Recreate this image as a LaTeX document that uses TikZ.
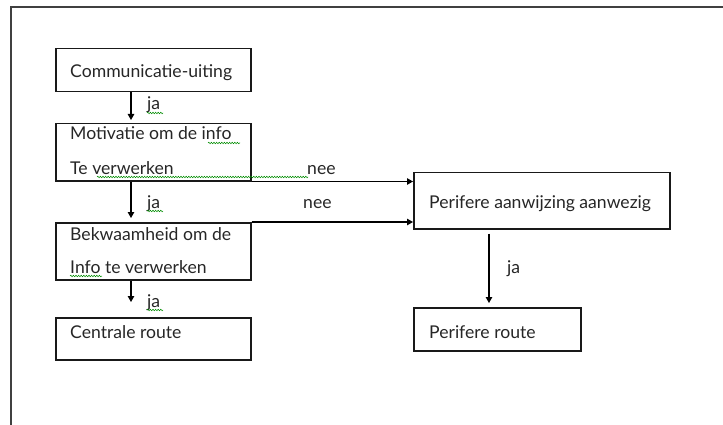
\documentclass[tikz,border=0pt]{standalone}
\usepackage{fontspec}
\setmainfont{Lato}
\usetikzlibrary{arrows.meta,calc,decorations.pathmorphing}

\begin{document}
\begin{tikzpicture}[x=1pt,y=-1pt,
  box/.style={draw=black!90,line width=1.5pt,rectangle,inner sep=0pt,anchor=north west},
  txt/.style={anchor=base west,inner sep=0pt,font=\fontsize{17.6}{17.6}\selectfont,text=black!85},
  flow/.style={draw=black,line width=1.1pt,-{Triangle[length=6pt,width=6.5pt]}},
  spell/.style={draw=green!55!black,line width=0.5pt,decorate,
    decoration={snake,amplitude=0.8pt,segment length=2.6pt}}]
\useasboundingbox (0,0) rectangle (723,425);

% page frame
\draw[line width=2.2pt,black!75] (723,7) -- (11,7) -- (11,425);

% boxes
\node[box,minimum width=195pt,minimum height=43pt] (comm)  at (55,48)  {};
\node[box,minimum width=195pt,minimum height=57pt] (motiv) at (55,123) {};
\node[box,minimum width=195pt,minimum height=57pt] (bekw)  at (55,222) {};
\node[box,minimum width=195pt,minimum height=42pt] (centr) at (55,317) {};
\node[box,minimum width=256pt,minimum height=56pt] (perA)  at (413,172) {};
\node[box,minimum width=167pt,minimum height=43pt] (perR)  at (413,307) {};

% box texts
\node[txt] (tcomm)  at (70,78)  {Communicatie-uiting};
\node[txt] (tmot1)  at (70,140) {Motivatie om de info};
\node[txt] (tmot2)  at (70,175) {Te verwerken};
\node[txt] (tbek1)  at (70,240) {Bekwaamheid om de};
\node[txt] (tbek2)  at (70,273) {Info te verwerken};
\node[txt] (tcen)   at (70,338) {Centrale route};
\node[txt] (tperA)  at (429,208) {Perifere aanwijzing aanwezig};
\node[txt] (tperR)  at (429,338) {Perifere route};

% connectors
\draw[flow] ($(comm.south west)+(76,0)$) -- ($(motiv.north west)+(76,-3)$);
\draw[flow] ($(motiv.south west)+(76,0)$) -- ($(bekw.north west)+(76,-4)$);
\draw[flow] ($(bekw.south west)+(76,0)$) -- ($(centr.north west)+(76,-15)$);
\draw[flow] (motiv.south east) -- (motiv.south east -| perA.west);
\draw[flow] (bekw.north east) -- (bekw.north east -| perA.west);
\draw[flow] ($(perA.south west)+(76,4)$) -- ($(perR.north west)+(76,-4)$);

% connector labels
\node[txt] (ja1)  at (147,110) {ja};
\node[txt] (ja2)  at (147,208) {ja};
\node[txt] (ja3)  at (147,307) {ja};
\node[txt] (ja4)  at (507,273) {ja};
\node[txt] (nee1) at (307,175) {nee};
\node[txt] (nee2) at (303,208) {nee};

% spelling marks
\draw[spell] (147,113) -- (163,113);
\draw[spell] (147,211) -- (163,211);
\draw[spell] (147,310) -- (163,310);
\draw[spell] (208,143) -- (240,143);
\draw[spell] (97,177) -- (308,177);
\draw[spell] (70,276) -- (102,276);
\end{tikzpicture}
\end{document}
